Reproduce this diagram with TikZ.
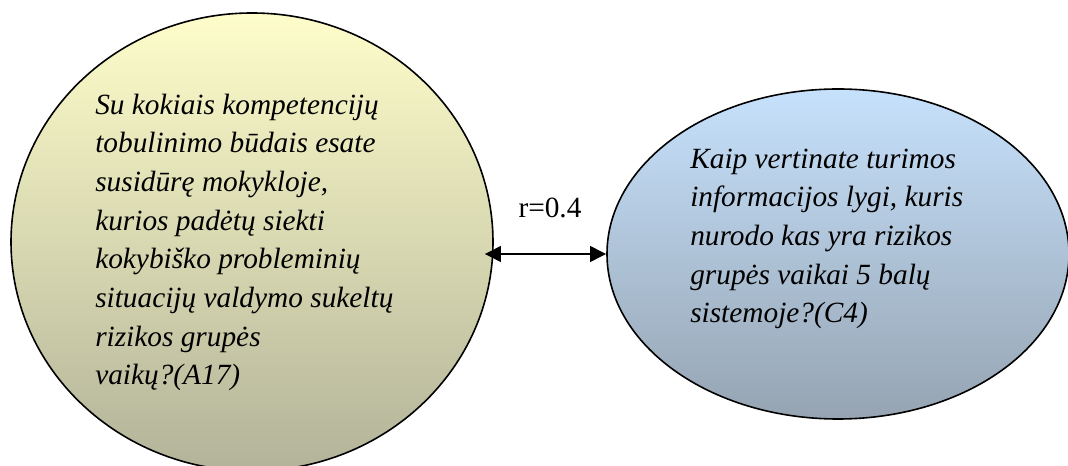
\documentclass[tikz,border=0pt]{standalone}
\usepackage{fontspec}
\setmainfont{Liberation Serif}
\usetikzlibrary{shapes.geometric,arrows.meta}
\definecolor{ylwtop}{HTML}{FEFDCA}
\definecolor{ylwbot}{HTML}{B2B399}
\definecolor{blutop}{HTML}{C6E1FC}
\definecolor{blubot}{HTML}{96A4B2}

\begin{document}
\begin{tikzpicture}[x=0.75pt,y=-0.75pt,
  bubble/.style={ellipse, draw=black, line width=1.2pt, inner sep=0pt},
  question/.style={align=left, inner sep=0pt,
    font=\fontsize{22}{29}\selectfont\itshape, anchor=base west},
  corr/.style={inner sep=0pt, font=\fontsize{22}{29}\selectfont},
  link/.style={line width=2.2pt,
    {Triangle[length=12pt,width=11.5pt]}-{Triangle[length=12pt,width=11.5pt]}}]
\useasboundingbox (0,0) rectangle (1068,466);

% the two survey questions
\node[bubble, top color=ylwtop, bottom color=ylwbot,
      minimum width=361.5pt, minimum height=343.5pt] (a17) at (252,242) {};
\node[bubble, top color=blutop, bottom color=blubot,
      minimum width=346.5pt, minimum height=247.5pt] (c4) at (838,254) {};

% multi-line texts are placed by the baseline of their last line
\node[question] (a17text) at (95,385) {Su kokiais kompetencijų\\
tobulinimo būdais esate\\
susidūrę mokykloje,\\
kurios padėtų siekti\\
kokybiško probleminių\\
situacijų valdymo sukeltų\\
rizikos grupės\\
vaikų?(A17)};

\node[question] (c4text) at (690,323) {Kaip vertinate turimos\\
informacijos lygi, kuris\\
nurodo kas yra rizikos\\
grupės vaikai 5 balų\\
sistemoje?(C4)};

% correlation between them
\draw[link, shorten <=-6.75pt] (a17.east |- c4.west) -- (c4.west)
  node[corr, midway, anchor=base, yshift=27pt] (r) {r=0.4};
\end{tikzpicture}
\end{document}
